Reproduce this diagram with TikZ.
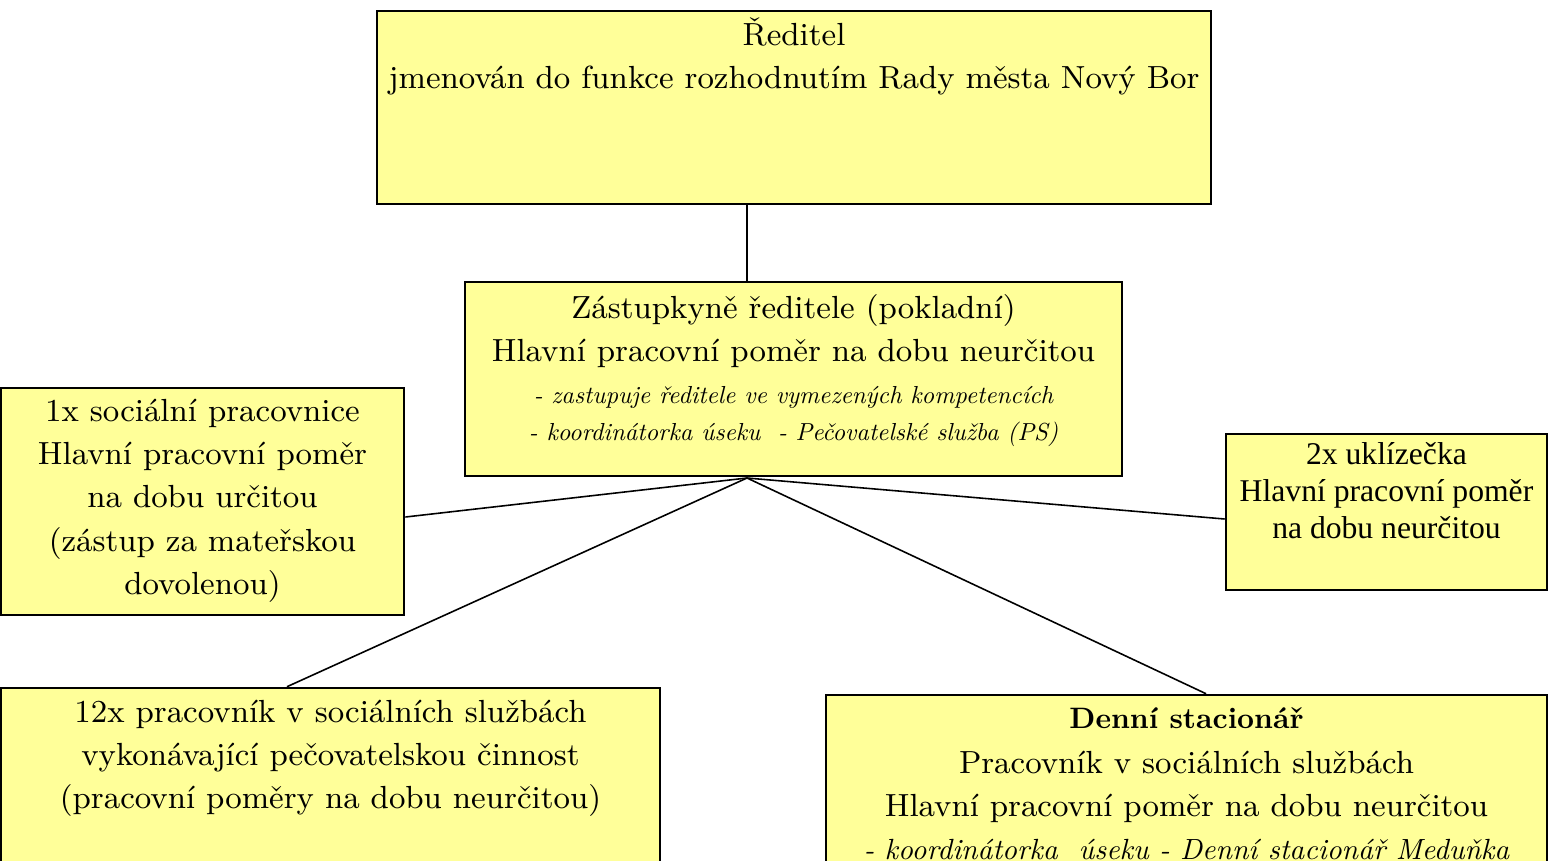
\documentclass[tikz,border=0pt]{standalone}
\usepackage{fontspec}
\newfontfamily\timesfont{Liberation Serif}
\newfontfamily\itfont{lmroman10-italic.otf}
\newfontfamily\bffont{lmroman10-bold.otf}
\usetikzlibrary{positioning}
\definecolor{boxyellow}{HTML}{FFFF99}
\newcommand{\bigsz}{\fontsize{9.1}{12.25}\selectfont}
\newcommand{\smallsz}{\itfont\fontsize{7.0}{10}\selectfont}
\newcommand{\timessz}{\timesfont\fontsize{9.0}{10.5}\selectfont}

\begin{document}
\begin{tikzpicture}[x=0.01cm, y=-0.01cm, box/.style={draw, line width=0.7pt, fill=boxyellow, inner sep=0pt}, lbl/.style={align=center, inner sep=0pt, font=\bigsz}, link/.style={line width=0.45pt}]
\clip (0,0) rectangle (1552,860);
\begin{scope}
\node[box, minimum width=8.34cm, minimum height=1.93cm] (dir) at (794,107.5) {};
\node[box, minimum width=6.57cm, minimum height=1.94cm] (zast) at (793.5,379) {};
\node[box, minimum width=4.03cm, minimum height=2.27cm] (soc) at (202.5,501.5) {};
\node[box, minimum width=3.21cm, minimum height=1.56cm] (ukl) at (1386.5,512) {};
\node[box, minimum width=6.59cm, minimum height=2.00cm] (prac) at (330.5,788) {};
\node[box, minimum width=7.21cm, minimum height=2.00cm] (denni) at (1186.5,795) {};
\end{scope}
\begin{scope}
\node[lbl, below=0.075cm of dir.north] (dirtxt) {Ředitel\\ jmenován do funkce rozhodnutím Rady města Nový Bor};
\node[lbl, below=0.13cm of zast.north] (zasttxt) {Zástupkyně ředitele (pokladní)\\ Hlavní pracovní poměr na dobu neurčitou\\[-0.4pt]
  {\smallsz - zastupuje ředitele ve vymezených kompetencích}\\[-1.6pt]
  {\smallsz - koordinátorka úseku\ \ - Pečovatelské služba (PS)}};
\node[lbl, below=0.12cm of soc.north] (soctxt) {1x sociální pracovnice\\ Hlavní pracovní poměr\\ na dobu určitou\\ (zástup za mateřskou\\ dovolenou)};
\node[lbl, font=\timessz, below=0.09cm of ukl.north] (ukltxt) {2x uklízečka\\ Hlavní pracovní poměr\\ na dobu neurčitou};
\node[lbl, below=0.13cm of prac.north] (practxt) {12x pracovník v sociálních službách\\ vykonávající pečovatelskou činnost\\ (pracovní poměry na dobu neurčitou)};
\node[lbl, below=0.13cm of denni.north] (dennitxt) {{\bffont\fontsize{8.4}{12.25}\selectfont Denní stacionář}\\[0.6pt] Pracovník v sociálních službách\\ Hlavní pracovní poměr na dobu neurčitou\\
  {\itfont\fontsize{8.3}{12.25}\selectfont - koordinátorka\ \ úseku - Denní stacionář Meduňka}};
\end{scope}
\coordinate (hub) at (747,478);
\begin{scope}[link]
\draw (dir.south -| hub) -- (zast.north -| hub);
\draw (hub) -- ([yshift=-0.155cm]soc.east);
\draw (hub) -- ([yshift=-0.07cm]ukl.west);
\draw (hub) -- ([xshift=-0.435cm]prac.north);
\draw (hub) -- ([xshift=0.195cm]denni.north);
\end{scope}
\end{tikzpicture}
\end{document}
